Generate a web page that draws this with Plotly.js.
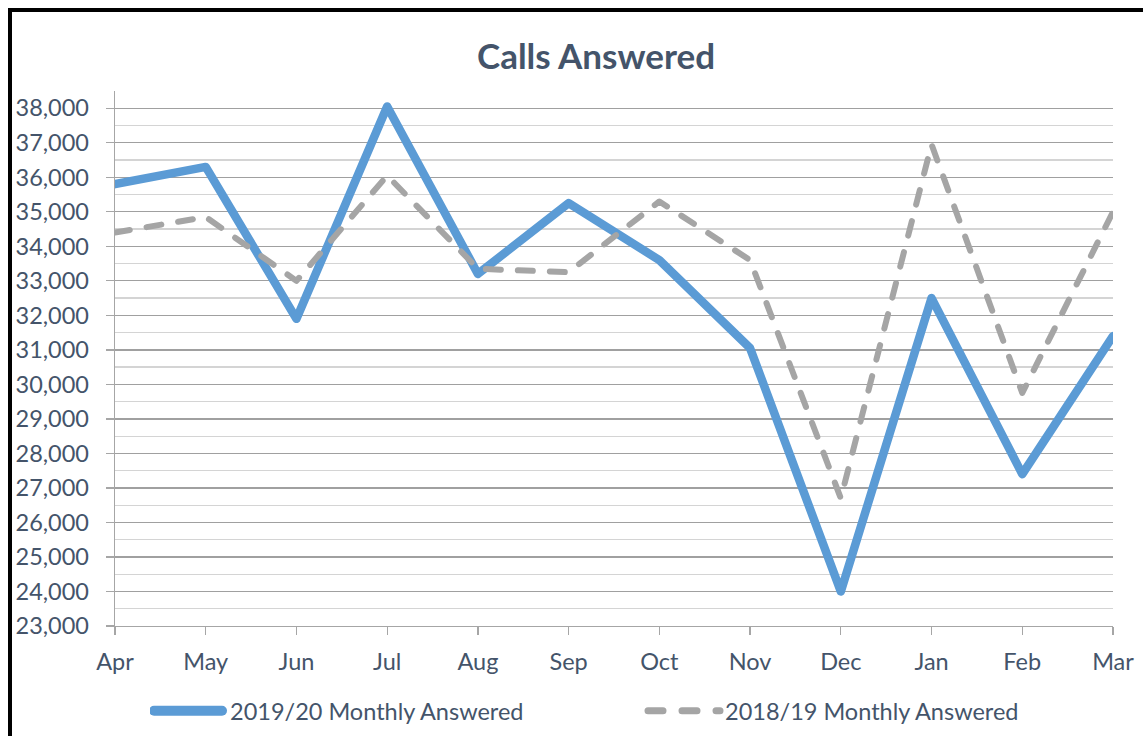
<!DOCTYPE html>
<html>
<head>
<meta charset="utf-8">
<script src="https://cdn.plot.ly/plotly-3.0.1.min.js"></script>
<style>
html,body{margin:0;padding:0;background:#fff;overflow:hidden;width:1143px;height:736px;}
#chart{position:absolute;left:0;top:0;width:1143px;height:736px;}
#frame{position:absolute;left:8px;top:8px;width:1300px;height:900px;border:4px solid #000;pointer-events:none;box-sizing:border-box;}
</style>
</head>
<body>
<div id="chart"></div>
<div id="frame"></div>
<script>
const months = ["Apr","May","Jun","Jul","Aug","Sep","Oct","Nov","Dec","Jan","Feb","Mar"];
const answered2019_20 = [35800, 36300, 31900, 38050, 33200, 35250, 33600, 31050, 24000, 32500, 27400, 31400];
const answered2018_19 = [34400, 34850, 33000, 36050, 33350, 33250, 35300, 33600, 26700, 36950, 29750, 35000];
const seriesNames = ["2019/20 Monthly Answered", "2018/19 Monthly Answered"];

const textColor = "#44546a";
const fontFam = "Lato, 'Open Sans', sans-serif";

const traces = [
  {
    x: months, y: answered2019_20, name: seriesNames[0], type: "scatter", mode: "lines",
    line: {color: "#5b9bd5", width: 8.5}
  },
  {
    x: months, y: answered2018_19, name: seriesNames[1], type: "scatter", mode: "lines",
    line: {color: "#a5a5a5", width: 6, dash: "15px,17px"}
  }
];

const layout = {
  width: 1143, height: 736,
  paper_bgcolor: "#fff", plot_bgcolor: "#fff",
  margin: {l: 115, r: 30, t: 91, b: 110},
  font: {family: fontFam, color: textColor},
  title: {
    text: "<b>Calls Answered</b>",
    font: {family: fontFam, size: 35, color: textColor},
    x: 596/1143, xref: "container", xanchor: "center",
    y: 1 - 57/736, yref: "container", yanchor: "middle"
  },
  showlegend: true,
  legend: {
    orientation: "h",
    x: 150/1143, xref: "container", xanchor: "left",
    y: 1 - 711/736, yref: "container", yanchor: "middle",
    font: {family: fontFam, size: 23.5, color: textColor},
    entrywidth: 450, entrywidthmode: "pixels",
    traceorder: "normal"
  },
  xaxis: {
    type: "category", range: [0, 11],
    showgrid: false, zeroline: false,
    showline: true, linecolor: "#a6a6a6", linewidth: 1.3,
    ticks: "outside", ticklen: 8, tickcolor: "#a6a6a6", tickwidth: 1.3,
    ticklabelstandoff: 6,
    tickfont: {family: fontFam, size: 23.5, color: textColor},
    fixedrange: true
  },
  yaxis: {
    range: [23000, 38500],
    tick0: 23000, dtick: 1000, tickformat: ",d",
    showgrid: true, gridcolor: "#a0a0a0", gridwidth: 1.3,
    zeroline: false,
    showline: true, linecolor: "#a6a6a6", linewidth: 1.3,
    ticks: "outside", ticklen: 8, tickcolor: "#a6a6a6", tickwidth: 1.3,
    ticklabelstandoff: 12,
    tickfont: {family: fontFam, size: 23.5, color: textColor},
    minor: {dtick: 500, tick0: 23000, showgrid: true, gridcolor: "#d4d4d4", gridwidth: 1.3, ticks: ""},
    fixedrange: true
  }
};

Plotly.newPlot("chart", traces, layout, {displayModeBar: false, staticPlot: true}).then(function(){
  document.querySelectorAll("#chart .scatterlayer path.js-line").forEach(function(p){
    p.style.strokeLinecap = "round";
    p.style.strokeLinejoin = "round";
  });
  // longer legend swatches like the reference, text shifted to follow them
  document.querySelectorAll("#chart .legend .traces").forEach(function(g, i){
    const p = g.querySelector("path.js-line");
    if (p) {
      p.style.strokeLinecap = "round";
      if (i === 0) { p.setAttribute("d", "M4,0h68"); p.style.strokeWidth = "10px"; }
      else { p.setAttribute("d", "M3,0h72"); p.style.strokeWidth = "7px"; p.style.strokeDasharray = "15px,19px"; }
    }
    const t = g.querySelector("text.legendtext");
    if (t) { t.setAttribute("x", "80"); }
  });
});
</script>
</body>
</html>
